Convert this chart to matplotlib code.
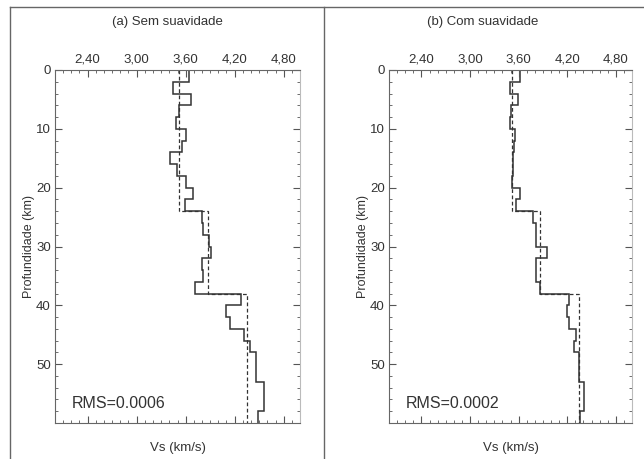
import numpy as np
import matplotlib
matplotlib.use("Agg")
from matplotlib import pyplot as plt
from matplotlib.ticker import MultipleLocator, FixedLocator, FuncFormatter
from matplotlib.lines import Line2D

plt.rcParams['font.family'] = ['Liberation Sans Narrow', 'Liberation Sans', 'DejaVu Sans']

# layer boundaries (km)
depths = [0, 2, 4, 6, 8, 10, 12, 14, 16, 18, 20, 22, 24, 26, 28, 30,
          32, 34, 36, 38, 40, 42, 44, 46, 48, 53, 58, 60]

# true model
true_edges = [0, 24, 38, 60]
true_vs = [3.52, 3.87, 4.35]

# inverted model, no smoothing
vs_a = [3.64, 3.44, 3.66, 3.52, 3.48, 3.60, 3.56, 3.41, 3.49, 3.60, 3.69, 3.59,
        3.80, 3.81, 3.88, 3.91, 3.80, 3.81, 3.72, 4.28, 4.09, 4.14, 4.31, 4.39,
        4.46, 4.56, 4.49]
# inverted model, with smoothing
vs_b = [3.62, 3.49, 3.59, 3.51, 3.49, 3.55, 3.54, 3.53, 3.53, 3.52, 3.62, 3.57,
        3.78, 3.82, 3.82, 3.95, 3.81, 3.82, 3.86, 4.22, 4.20, 4.22, 4.31, 4.29,
        4.34, 4.41, 4.36]

titles = ['(a) Sem suavidade', '(b) Com suavidade']
rms = ['RMS=0.0006', 'RMS=0.0002']
xticks = [2.4, 3.0, 3.6, 4.2, 4.8]

W, H = 644, 459
fig = plt.figure(figsize=(W / 100, H / 100), dpi=100)

boxes = [(55, 70, 245, 353), (389, 70, 243, 353)]
title_x = [167, 483]

for i, vs in enumerate([vs_a, vs_b]):
    x0, y0, w, h = boxes[i]
    ax = fig.add_axes([x0 / W, 1 - (y0 + h) / H, w / W, h / H])
    ax.stairs(true_vs, true_edges, orientation='horizontal', baseline=None,
              color='#333333', lw=0.9, ls=(0, (3, 2)))
    ax.stairs(vs, depths, orientation='horizontal', baseline=None,
              color='#333333', lw=1.1)
    ax.set_xlim(2.0, 5.0)
    ax.set_ylim(60, 0)
    ax.xaxis.set_major_locator(FixedLocator(xticks))
    ax.xaxis.set_minor_locator(MultipleLocator(0.1))
    ax.xaxis.set_major_formatter(FuncFormatter(lambda v, p: f'{v:.2f}'.replace('.', ',')))
    ax.yaxis.set_major_locator(FixedLocator([0, 10, 20, 30, 40, 50]))
    ax.yaxis.set_minor_locator(MultipleLocator(2))
    ax.tick_params(which='both', direction='in', top=True, bottom=True,
                   left=True, right=True, labeltop=True, labelbottom=False,
                   color='#555555', labelsize=9.5, labelcolor='#333333')
    ax.tick_params(which='major', length=5, width=0.8, pad=3)
    ax.tick_params(which='minor', length=2.5, width=0.6)
    for s in ['left', 'top', 'bottom']:
        ax.spines[s].set_color('#666666')
    ax.spines['right'].set_color('#bbbbbb')
    ax.set_xlabel('Vs (km/s)', fontsize=9.5, color='#333333', labelpad=14)
    ax.set_ylabel('Profundidade (km)', fontsize=9, color='#333333', labelpad=1)
    ax.text(0.07, 0.055, rms[i], transform=ax.transAxes, fontsize=11.5,
            color='#333333', va='center', ha='left')
    fig.text(title_x[i] / W, 1 - 22 / H, titles[i], fontsize=9.5,
             color='#333333', ha='center', va='center')

# panel frames
fc = '#666666'
fig.add_artist(Line2D([10 / W, 10 / W], [1 - 7 / H, 0], color=fc, lw=1))
fig.add_artist(Line2D([10 / W, 1], [1 - 7 / H, 1 - 7 / H], color=fc, lw=1))
fig.add_artist(Line2D([324 / W, 324 / W], [1 - 7 / H, 0], color=fc, lw=1))

fig.savefig('out.png', dpi=100)
